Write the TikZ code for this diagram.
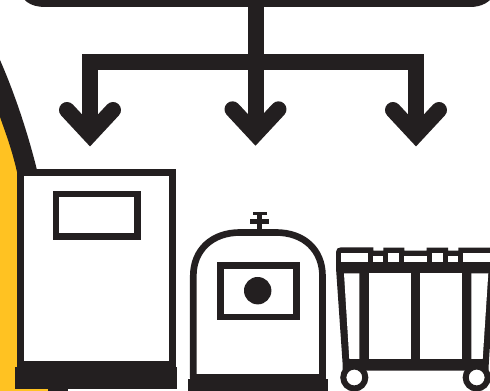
\documentclass[tikz,border=0pt]{standalone}
\definecolor{inkdark}{HTML}{231F20}
\definecolor{binyellow}{HTML}{FFC222}
\begin{document}
\begin{tikzpicture}[x=0.75pt,y=-0.75pt,
    wire/.style={draw=inkdark,line width=12pt,miter limit=10},
    chevron/.style={draw=inkdark,line width=12pt,line cap=round,miter limit=10},
    outline/.style={draw=inkdark,line width=5pt,fill=white},
    solid/.style={fill=inkdark},
    hole/.style={fill=white}]
    \clip (0,0) rectangle (490,391);

    % Yellow bin behind the cabinet
    \fill[binyellow] (0,110) -- (0,391) -- (48,391) -- (48,380) -- (17,380) -- (17,165) -- cycle;
    \fill[solid] (0,60) .. controls (14,92) and (27,130) .. (37,170) -- (17,172) .. controls (12,150) and (6,134) .. (0,117) -- cycle;
    \fill[solid] (48,385) rectangle (68,391);

    % Top box
    \fill[solid] (20,-30) -- (20,-13) .. controls (20,0) and (30,7) .. (45,7) -- (470,7) .. controls (482,7) and (490,2) .. (495,-6) -- (495,-30) -- cycle;

    % Connectors
    \coordinate (boxout) at (255.5,0);
    \coordinate (tipa) at (90,134.7);
    \coordinate (tipb) at (255.5,134);
    \coordinate (tipc) at (416,134.7);
    \coordinate (busa) at (90,62);
    \coordinate (busc) at (416,62);
    \draw[wire] (boxout) -- (tipb);
    \draw[wire] (tipa) -- (busa) -- (busc) -- (tipc);
    \foreach \tip in {tipa,tipb,tipc}
        \draw[chevron] ([shift={(-23,-24.7)}]\tip) -- (\tip) -- ([shift={(23,-24.7)}]\tip);

    % Cabinet
    \draw[outline] (20.7,372) -- (20.7,172.7) -- (172.7,172.7) -- (172.7,372);
    \fill[solid] (17.3,361) rectangle (176,367);
    \fill[solid] (15.3,366.7) rectangle (177.3,389);
    \draw[outline] (56,194) rectangle (137.5,236.7);

    % Dome unit
    \draw[outline] (193.3,378) -- (193.3,276) .. controls (193.3,250) and (212,232.5) .. (240,232.5) -- (276,232.5) .. controls (304,232.5) and (322.5,250) .. (322.5,276) -- (322.5,378);
    \fill[solid] (190,374) rectangle (325.7,380);
    \fill[solid] (188.3,379) rectangle (328.3,391);
    \draw[outline] (220.8,265.5) rectangle (296.7,317);
    \fill[solid] (257.7,290.7) circle (13.7);
    \fill[solid] (256.7,212) rectangle (262.3,231);
    \fill[solid] (250,219) rectangle (269.3,224.3);
    \fill[solid] (253.3,212) rectangle (266.7,215);

    % Cart
    \fill[solid] (336,268) -- (336,252) .. controls (336,249) and (338,247.3) .. (341,247.3) -- (373.3,247.3) -- (373.3,250.7) -- (383.3,250.7) -- (383.3,247.7) -- (404.3,247.7) -- (404.3,250.7) -- (426.7,250.7) -- (426.7,247.7) -- (448,247.7) -- (448,250.7) -- (458.3,250.7) -- (458.3,247.7) -- (495,247.7) -- (495,268) -- (488.7,365) -- (488.7,370.7) -- (342.7,370.7) -- (342.7,365) -- cycle;
    % rim openings
    \fill[hole] (341,252.7) rectangle (368.3,262.3);
    \fill[hole] (373.3,255.7) rectangle (383.3,262.3);
    \fill[hole] (388.3,252.7) rectangle (399.3,262.3);
    \fill[hole] (404.3,255.7) rectangle (426.7,262.3);
    \fill[hole] (431.7,252.7) rectangle (442.7,262.3);
    \fill[hole] (448,255.7) rectangle (458.3,262.3);
    \fill[hole] (463.3,252.7) rectangle (495,262.3);
    % body panels
    \fill[hole] (344,273.3) -- (359.3,273.3) -- (359.3,359) -- (349.3,359) -- cycle;
    \fill[hole] (369.3,273.3) rectangle (411.3,359);
    \fill[hole] (420.3,273.3) rectangle (462.3,359);
    \fill[hole] (471.3,273.3) -- (488.3,273.3) -- (482.7,359) -- (471.3,359) -- cycle;
    % wheels
    \foreach \wx in {354.3,476.7}
        \draw[outline,line width=4.5pt] (\wx,377.5) circle (11);
\end{tikzpicture}
\end{document}
